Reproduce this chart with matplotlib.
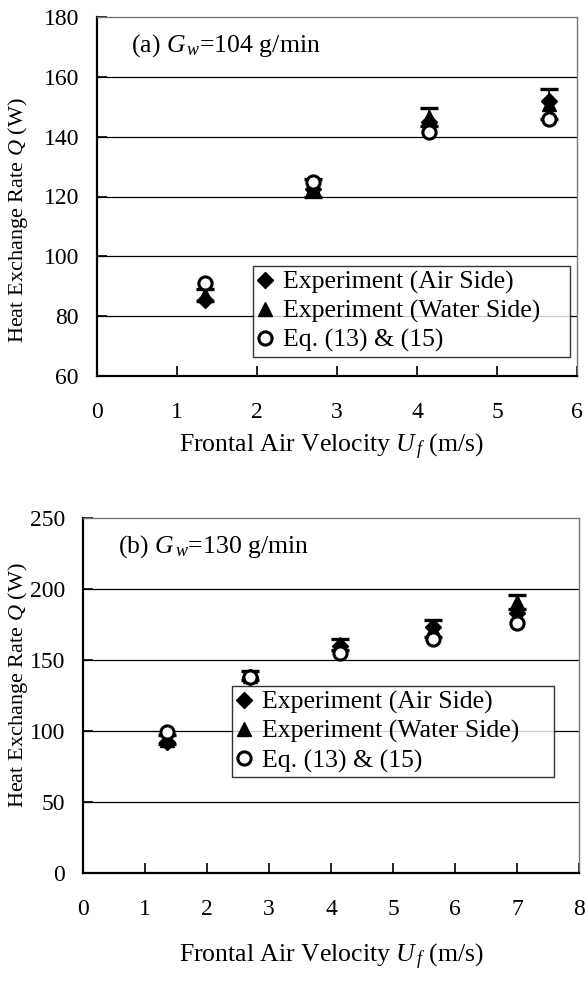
import matplotlib
matplotlib.use("Agg")
import matplotlib.pyplot as plt

plt.rcParams['font.family'] = ['Liberation Serif', 'DejaVu Serif']
plt.rcParams['mathtext.fontset'] = 'custom'
plt.rcParams['mathtext.rm'] = 'Liberation Serif'
plt.rcParams['mathtext.it'] = 'Liberation Serif:italic'
FS_TEXT = 18.5   # horizontal labels, legend, panel titles
FS_TICK = 17
FS_YLAB = 16
plt.rcParams['font.size'] = FS_TEXT

# Panel (a): Gw = 104 g/min
u_a = [1.35, 2.7, 4.15, 5.65]
q_air_a = [85.5, 122.5, 145.0, 152.0]
q_water_a = [87.0, 123.0, 146.5, 151.0]
q_water_err_a = [2.0, 3.0, 3.0, 5.0]
q_eq_a = [91.0, 125.0, 141.5, 146.0]

# Panel (b): Gw = 130 g/min
u_b = [1.35, 2.7, 4.15, 5.65, 7.0]
q_air_b = [92.0, 138.0, 160.0, 173.0, 183.0]
q_water_b = [94.0, 139.0, 161.0, 172.0, 191.0]
q_water_err_b = [3.0, 3.0, 4.0, 6.0, 5.0]
q_eq_b = [99.0, 138.0, 155.0, 165.0, 176.0]

legend_labels = ["Experiment (Air Side)", "Experiment (Water Side)", "Eq. (13) & (15)"]

W, H = 585, 981
fig = plt.figure(figsize=(W / 100, H / 100), dpi=100)


def box(l, t, r, b):
    return [l / W, 1 - b / H, (r - l) / W, (b - t) / H]


def draw_panel(ax, u, q_air, q_water, q_err, q_eq, ylim, yticks, xlim, title,
               leg_box):
    ax.set_xlim(*xlim)
    ax.set_ylim(*ylim)
    ax.set_yticks(yticks)
    ax.set_xticks(range(xlim[0], xlim[1] + 1))
    for y in yticks[1:-1]:
        ax.axhline(y, color='black', lw=0.9, zorder=1)
    ax.errorbar(u, q_water, yerr=q_err, fmt='none', ecolor='black',
                elinewidth=1.3, capsize=6.5, capthick=2.4, zorder=3)
    ax.plot(u, q_air, linestyle='none', marker='D', ms=8.5, color='black',
            zorder=4, label=legend_labels[0])
    ax.plot(u, q_water, linestyle='none', marker='^', ms=10, color='black',
            zorder=4, label=legend_labels[1])
    ax.plot(u, q_eq, linestyle='none', marker='o', ms=9.5, mfc='white',
            mec='black', mew=2.2, zorder=5, label=legend_labels[2])
    for side in ('left', 'bottom'):
        ax.spines[side].set_linewidth(1.6)
        ax.spines[side].set_color('black')
    for side in ('top', 'right'):
        ax.spines[side].set_linewidth(1.0)
        ax.spines[side].set_color('#777777')
    ax.tick_params(axis='both', direction='in', length=7, width=1.2,
                   labelsize=FS_TICK)
    ax.tick_params(axis='x', pad=19)
    ax.tick_params(axis='y', pad=13)
    ax.text(0.07, 0.92, title, transform=ax.transAxes, fontsize=FS_TEXT,
            va='center', ha='left')
    leg = ax.legend(loc='lower left', bbox_to_anchor=leg_box, mode='expand',
                    fontsize=FS_TEXT, frameon=True, fancybox=False,
                    shadow=False, handlelength=0.6, handletextpad=0.4,
                    borderpad=0.18, labelspacing=0.22, borderaxespad=0.0)
    leg.get_frame().set_edgecolor('black')
    leg.get_frame().set_linewidth(1.0)


ax_a = fig.add_axes(box(97, 17, 577, 376))
draw_panel(ax_a, u_a, q_air_a, q_water_a, q_water_err_a, q_eq_a,
           (60, 180), [60, 80, 100, 120, 140, 160, 180], (0, 6),
           r"(a) $G_{\,w}$=104 g/min",
           (0.325, 0.053, 0.66, 0.253))

ax_b = fig.add_axes(box(83, 518, 579, 873))
draw_panel(ax_b, u_b, q_air_b, q_water_b, q_water_err_b, q_eq_b,
           (0, 250), [0, 50, 100, 150, 200, 250], (0, 8),
           r"(b) $G_{\,w}$=130 g/min",
           (0.30, 0.27, 0.65, 0.25))

ylabel = r"Heat Exchange Rate $Q$ (W)"
xlabel = r"Frontal Air Velocity $U_{\,f}$ (m/s)"
fig.text(18 / W, 1 - 220 / H, ylabel, rotation=90, ha='center', va='center',
         fontsize=FS_YLAB)
fig.text(18 / W, 1 - 685 / H, ylabel, rotation=90, ha='center', va='center',
         fontsize=FS_YLAB)
fig.text(331 / W, 1 - 447 / H, xlabel, ha='center', va='center',
         fontsize=FS_TEXT)
fig.text(331 / W, 1 - 957 / H, xlabel, ha='center', va='center',
         fontsize=FS_TEXT)

fig.savefig("out.png", dpi=100)
